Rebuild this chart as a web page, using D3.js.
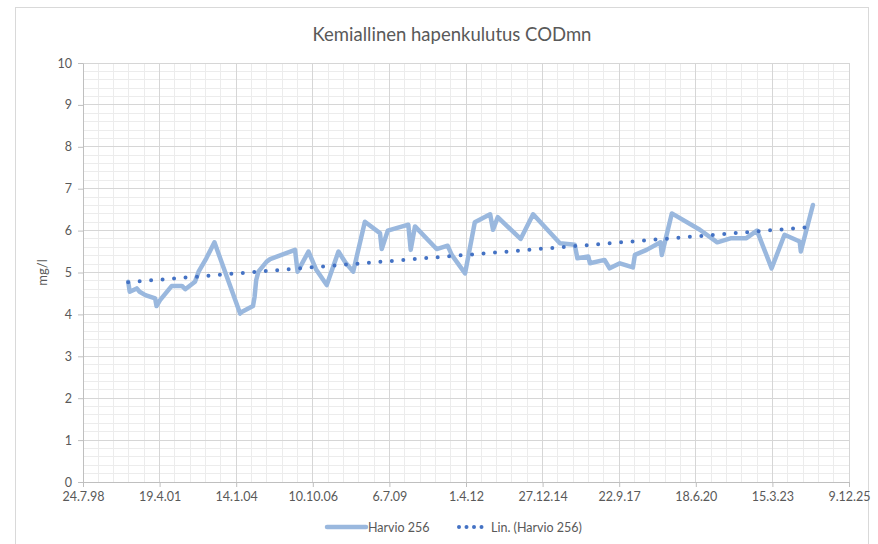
<!DOCTYPE html>
<html>
<head>
<meta charset="utf-8">
<script src="https://cdn.jsdelivr.net/npm/d3@7"></script>
<style>
  body { margin: 0; background: #fff; }
  svg text { font-family: Lato, "Open Sans", sans-serif; }
</style>
</head>
<body>
<svg id="chart" width="878" height="544"></svg>
<script>
// sample dates and COD values (mg/l)
const dates = [
  "2000-03-05", "2000-03-25", "2000-06-25", "2000-08-01", "2000-10-15",
  "2001-02-20", "2001-03-10", "2001-04-25", "2001-09-25", "2002-02-05",
  "2002-03-20", "2002-07-25", "2002-09-10", "2002-12-20", "2003-04-05",
  "2004-03-05", "2004-03-25", "2004-08-20", "2004-09-10", "2004-10-01",
  "2004-10-30", "2005-02-15", "2005-04-01", "2006-02-20", "2006-03-25",
  "2006-08-15", "2006-11-20", "2007-04-10", "2007-09-10", "2007-12-10",
  "2008-03-20", "2008-08-20", "2009-03-05", "2009-03-28", "2009-06-15",
  "2010-01-25", "2010-03-10", "2010-04-10", "2010-06-05", "2011-03-15",
  "2011-08-05", "2011-09-28", "2012-03-20", "2012-07-25", "2013-02-10",
  "2013-03-20", "2013-05-20", "2014-03-15", "2014-08-25", "2015-08-10",
  "2016-02-20", "2016-03-25", "2016-08-15", "2016-09-05", "2017-03-15",
  "2017-05-20", "2017-10-01", "2018-03-20", "2018-04-15", "2018-09-15",
  "2019-03-15", "2019-04-01", "2019-08-10", "2020-08-10", "2021-03-25",
  "2021-09-25", "2022-04-10", "2022-08-25", "2023-03-05", "2023-08-20",
  "2024-03-05", "2024-03-20", "2024-08-25"
];
const values = [
  4.78, 4.54, 4.62, 4.54, 4.46,
  4.38, 4.20, 4.34, 4.68, 4.68,
  4.60, 4.78, 5.02, 5.34, 5.72,
  4.02, 4.06, 4.20, 4.42, 4.82,
  5.02, 5.26, 5.32, 5.54, 5.02,
  5.50, 5.08, 4.70, 5.50, 5.24,
  5.02, 6.21, 5.94, 5.56, 6.00,
  6.12, 6.14, 5.54, 6.10, 5.56,
  5.64, 5.42, 4.98, 6.20, 6.39,
  6.02, 6.32, 5.80, 6.39, 5.70,
  5.66, 5.34, 5.38, 5.22, 5.30,
  5.10, 5.22, 5.12, 5.42, 5.54,
  5.72, 5.42, 6.41, 6.02, 5.72,
  5.82, 5.82, 6.00, 5.10, 5.90,
  5.74, 5.50, 6.61
];
const yTicks = [0, 1, 2, 3, 4, 5, 6, 7, 8, 9, 10];
const xStart = "1998-07-24";
const xEnd = "2025-12-09";
const seriesName = "Harvio 256";
const trendName = "Lin. (Harvio 256)";
const chartTitle = "Kemiallinen hapenkulutus CODmn";
const yTitle = "mg/l";

const parse = d3.utcParse("%Y-%m-%d");
const data = dates.map((d, i) => ({date: parse(d), value: values[i]}));
const DAY = 86400000;

const margin = {top: 63, right: 29, bottom: 62, left: 83};
const W = 878, H = 544;
const width = W - margin.left - margin.right;
const height = H - margin.top - margin.bottom;

const svg = d3.select("#chart");

// outer chart frame
svg.append("rect")
  .attr("x", 15.5).attr("y", 7.5)
  .attr("width", 853).attr("height", 560)
  .attr("fill", "none").attr("stroke", "#d9d9d9");

const g = svg.append("g").attr("transform", `translate(${margin.left},${margin.top})`);

const x = d3.scaleUtc().domain([parse(xStart), parse(xEnd)]).range([0, width]);
const y = d3.scaleLinear().domain([0, 10]).range([height, 0]);

const t0 = parse(xStart).getTime();
const majorX = d3.range(0, 10001, 1000).map(d => new Date(t0 + d * DAY));
const minorX = d3.range(0, 10001, 200).map(d => new Date(t0 + d * DAY));
const minorY = d3.range(0, 10.001, 0.2);

// minor gridlines
g.append("g").selectAll("line").data(minorX).join("line")
  .attr("x1", d => x(d)).attr("x2", d => x(d))
  .attr("y1", 0).attr("y2", height)
  .attr("stroke", "#ececec").attr("shape-rendering", "crispEdges");
g.append("g").selectAll("line").data(minorY).join("line")
  .attr("x1", 0).attr("x2", width)
  .attr("y1", d => y(d)).attr("y2", d => y(d))
  .attr("stroke", "#ececec").attr("shape-rendering", "crispEdges");

// major gridlines
g.append("g").selectAll("line").data(majorX).join("line")
  .attr("x1", d => x(d)).attr("x2", d => x(d))
  .attr("y1", 0).attr("y2", height)
  .attr("stroke", "#d6d6d6").attr("shape-rendering", "crispEdges");
g.append("g").selectAll("line").data(yTicks).join("line")
  .attr("x1", 0).attr("x2", width)
  .attr("y1", d => y(d)).attr("y2", d => y(d))
  .attr("stroke", "#d6d6d6").attr("shape-rendering", "crispEdges");

const fmt = d => `${d.getUTCDate()}.${d.getUTCMonth() + 1}.${String(d.getUTCFullYear()).slice(2)}`;

// axes
const xAxis = g.append("g")
  .attr("transform", `translate(0,${height})`)
  .call(d3.axisBottom(x).tickValues(majorX).tickFormat(fmt).tickSizeInner(5).tickSizeOuter(0).tickPadding(5));
const yAxis = g.append("g")
  .call(d3.axisLeft(y).tickValues(yTicks).tickSizeInner(5).tickSizeOuter(0).tickPadding(6));
[xAxis, yAxis].forEach(a => {
  a.select(".domain").attr("stroke", "#bfbfbf");
  a.selectAll(".tick line").attr("stroke", "#bfbfbf");
  a.selectAll("text").attr("fill", "#595959").style("font-size", "12.5px");
});

// series line
const line = d3.line().x(d => x(d.date)).y(d => y(d.value));
g.append("path").datum(data)
  .attr("d", line)
  .attr("fill", "none")
  .attr("stroke", "#9ab8de")
  .attr("stroke-width", 4.5)
  .attr("stroke-linejoin", "round")
  .attr("stroke-linecap", "round");

// linear trendline (least squares on the series)
const xs = data.map(d => d.date.getTime());
const mx = d3.mean(xs), my = d3.mean(values);
const slope = d3.sum(data, (d, i) => (xs[i] - mx) * (values[i] - my)) / d3.sum(xs, v => (v - mx) * (v - mx));
const fit = t => my + slope * (t - mx);
const trend = [data[0].date, data[data.length - 1].date].map(d => ({date: d, value: fit(d.getTime())}));
g.append("path").datum(trend)
  .attr("d", line)
  .attr("fill", "none")
  .attr("stroke", "#4472c4")
  .attr("stroke-width", 4)
  .attr("stroke-dasharray", "0 11.5")
  .attr("stroke-linecap", "round");

// title
svg.append("text")
  .attr("x", 452).attr("y", 41)
  .attr("text-anchor", "middle")
  .attr("fill", "#595959")
  .style("font-size", "18.5px")
  .text(chartTitle);

// y axis title
svg.append("text")
  .attr("transform", `translate(47,${margin.top + height / 2}) rotate(-90)`)
  .attr("text-anchor", "middle")
  .attr("fill", "#595959")
  .style("font-size", "13px")
  .text(yTitle);

// legend
const lg = svg.append("g").attr("transform", "translate(0,527)");
lg.append("line")
  .attr("x1", 327).attr("x2", 366).attr("y1", 0).attr("y2", 0)
  .attr("stroke", "#9ab8de").attr("stroke-width", 4.5).attr("stroke-linecap", "round");
lg.append("text").attr("x", 368).attr("y", 4.5)
  .attr("fill", "#595959").style("font-size", "12.5px").text(seriesName);
lg.append("line")
  .attr("x1", 459).attr("x2", 482).attr("y1", 0).attr("y2", 0)
  .attr("stroke", "#4472c4").attr("stroke-width", 4)
  .attr("stroke-dasharray", "0 7.5").attr("stroke-linecap", "round");
lg.append("text").attr("x", 491).attr("y", 4.5)
  .attr("fill", "#595959").style("font-size", "12.5px").text(trendName);
</script>
</body>
</html>
